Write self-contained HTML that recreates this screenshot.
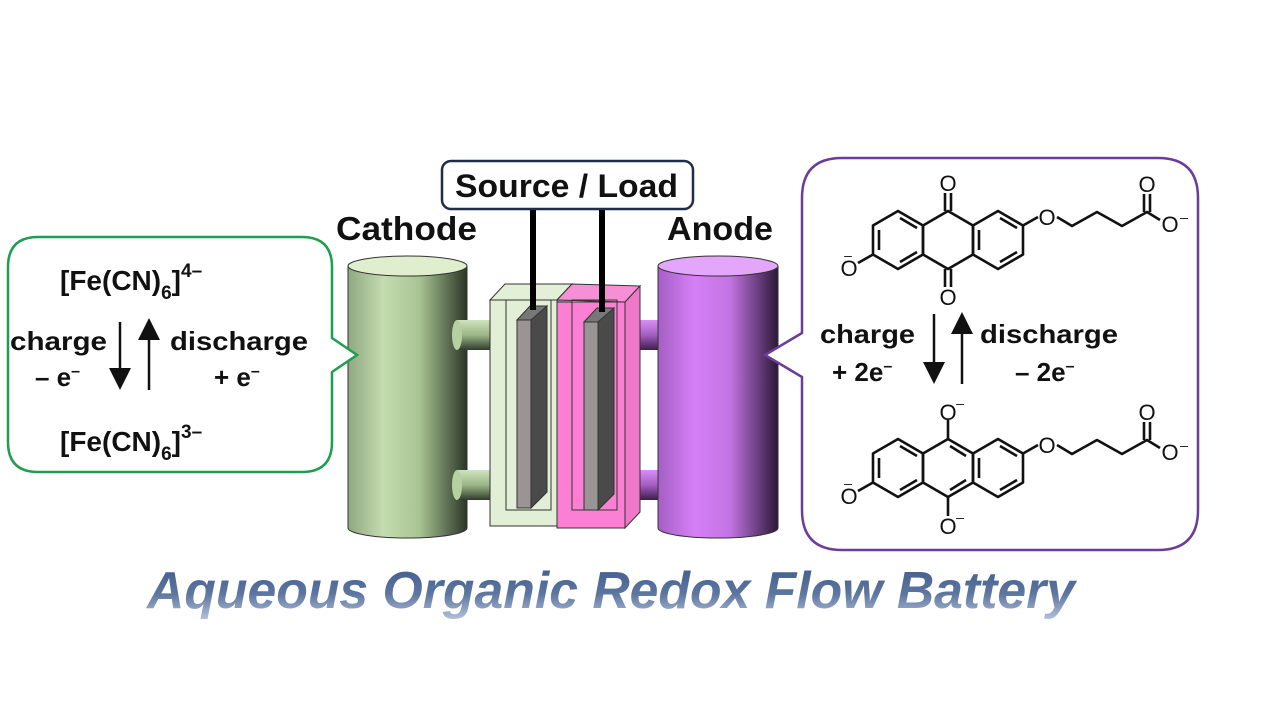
<!DOCTYPE html>
<html><head><meta charset="utf-8"><style>
body{margin:0;background:#fff;}
svg{display:block;font-family:"Liberation Sans",sans-serif;}
</style></head><body>
<svg width="1280" height="720" viewBox="0 0 1280 720" xmlns="http://www.w3.org/2000/svg">
<defs>
<linearGradient id="gc" x1="0" x2="1" y1="0" y2="0"><stop offset="0" stop-color="#8fa880"/><stop offset="0.3" stop-color="#c4dcaf"/><stop offset="0.6" stop-color="#a9c493"/><stop offset="1" stop-color="#2b3626"/></linearGradient>
<linearGradient id="ga" x1="0" x2="1" y1="0" y2="0"><stop offset="0" stop-color="#a45fc4"/><stop offset="0.3" stop-color="#d67ff8"/><stop offset="0.6" stop-color="#c374e3"/><stop offset="1" stop-color="#2c1838"/></linearGradient>
<linearGradient id="pc" x1="0" x2="0" y1="0" y2="1"><stop offset="0" stop-color="#cfe4bd"/><stop offset="0.5" stop-color="#9bb687"/><stop offset="1" stop-color="#2f3b2a"/></linearGradient>
<linearGradient id="pa" x1="0" x2="0" y1="0" y2="1"><stop offset="0" stop-color="#d98ff5"/><stop offset="0.5" stop-color="#a35ec2"/><stop offset="1" stop-color="#3a1f48"/></linearGradient>
<linearGradient id="gt" x1="0" x2="0" y1="0" y2="1"><stop offset="0" stop-color="#3d5a8a"/><stop offset="0.55" stop-color="#5d76a0"/><stop offset="1" stop-color="#b5c3db"/></linearGradient>
</defs>

<!-- Cathode cylinder -->
<rect x="348" y="266" width="119" height="262" fill="url(#gc)"/>
<ellipse cx="407.5" cy="528" rx="59.5" ry="10" fill="url(#gc)"/>
<ellipse cx="407.5" cy="266" rx="59.5" ry="10" fill="#dfeecd" stroke="#333" stroke-width="1"/>
<line x1="348" y1="266" x2="348" y2="528" stroke="#333" stroke-width="1"/>
<line x1="467" y1="266" x2="467" y2="528" stroke="#333" stroke-width="1"/>
<path d="M348,528 A59.5,10 0 0 0 467,528" fill="none" stroke="#333"/>

<!-- Left bubble -->
<path d="M38,237 H302 Q332,237 332,267 V338 L357,355 L332,372 V442 Q332,472 302,472 H38 Q8,472 8,442 V267 Q8,237 38,237 Z" fill="#fff" stroke="#1f9e52" stroke-width="2.5"/>
<g font-weight="bold" fill="#111">
<text x="60" y="290" font-size="28">[Fe(CN)<tspan font-size="19" dy="9">6</tspan><tspan dy="-9">]</tspan><tspan font-size="19" dy="-13">4–</tspan></text>
<text x="60" y="451" font-size="28">[Fe(CN)<tspan font-size="19" dy="9">6</tspan><tspan dy="-9">]</tspan><tspan font-size="19" dy="-13">3–</tspan></text>
<text x="10" y="350" font-size="26" textLength="97" lengthAdjust="spacingAndGlyphs">charge</text>
<text x="35" y="386" font-size="26">– e<tspan font-size="16" dy="-10">–</tspan></text>
<text x="170" y="350" font-size="26" textLength="138" lengthAdjust="spacingAndGlyphs">discharge</text>
<text x="214" y="386" font-size="26">+ e<tspan font-size="16" dy="-10">–</tspan></text>
</g>
<line x1="120" y1="322" x2="120" y2="372" stroke="#111" stroke-width="2.5"/>
<polygon points="109,368 131,368 120,390" fill="#111"/>
<line x1="149" y1="335" x2="149" y2="390" stroke="#111" stroke-width="2.5"/>
<polygon points="138,340 160,340 149,318" fill="#111"/>

<!-- pipes -->
<rect x="457" y="320" width="33" height="30" fill="url(#pc)"/><ellipse cx="457" cy="335" rx="5" ry="15" fill="#b7d0a0"/>
<rect x="457" y="470" width="33" height="30" fill="url(#pc)"/><ellipse cx="457" cy="485" rx="5" ry="15" fill="#b7d0a0"/>
<rect x="632" y="320" width="30" height="30" fill="url(#pa)"/><ellipse cx="632" cy="335" rx="5" ry="15" fill="#c57ae6"/>
<rect x="632" y="470" width="30" height="30" fill="url(#pa)"/><ellipse cx="632" cy="485" rx="5" ry="15" fill="#c57ae6"/>

<!-- Anode cylinder -->
<rect x="658" y="266" width="120" height="262" fill="url(#ga)"/>
<ellipse cx="718" cy="528" rx="60" ry="10" fill="url(#ga)"/>
<ellipse cx="718" cy="266" rx="60" ry="10" fill="#e4a6fb" stroke="#333" stroke-width="1"/>
<line x1="658" y1="266" x2="658" y2="528" stroke="#333"/>
<line x1="778" y1="266" x2="778" y2="528" stroke="#333"/>
<path d="M658,528 A60,10 0 0 0 778,528" fill="none" stroke="#333"/>

<!-- Right bubble -->
<path d="M842,158 H1158 Q1198,158 1198,198 V510 Q1198,550 1158,550 H842 Q802,550 802,510 V377 L765,355 L802,333 V198 Q802,158 842,158 Z" fill="#fff" stroke="#6b3d98" stroke-width="2.5"/>

<!-- Cell -->
<g stroke="#333" stroke-width="1">
<polygon points="490,300 505,284 572,284 557,300" fill="#e4efd7"/>
<rect x="490" y="300" width="67" height="226" fill="#e2eed5"/>
<polygon points="557,300 572,284 572,510 557,526" fill="#a9b7c3"/>
<polygon points="557,300 572,284 640,286 625,302" fill="#f78fd6"/>
<rect x="557" y="302" width="68" height="226" fill="#fb80d3"/>
<polygon points="625,302 640,286 640,512 625,528" fill="#f078c9"/>
<rect x="506" y="300" width="45" height="210" fill="none"/>
<rect x="572" y="300" width="45" height="210" fill="none"/>
<polygon points="517,320 530,306 547,306 534,320" fill="#777"/>
<rect x="517" y="320" width="14" height="188" fill="#9a9494"/>
<polygon points="531,320 547,306 547,492 531,508" fill="#4a4a4a"/>
<polygon points="584,322 597,308 614,308 601,322" fill="#777"/>
<rect x="584" y="322" width="14" height="188" fill="#9a9494"/>
<polygon points="598,322 614,308 614,494 598,510" fill="#4a4a4a"/>
</g>
<line x1="533" y1="208" x2="533" y2="310" stroke="#000" stroke-width="6"/>
<line x1="602" y1="208" x2="602" y2="312" stroke="#000" stroke-width="6"/>

<!-- Source / Load -->
<rect x="442" y="161" width="251" height="48" rx="9" fill="#fff" stroke="#1e2e4a" stroke-width="2.5"/>
<text x="455" y="197" font-size="32" font-weight="bold" fill="#111" textLength="223" lengthAdjust="spacingAndGlyphs">Source / Load</text>
<text x="336" y="240" font-size="33" font-weight="bold" fill="#111" textLength="141" lengthAdjust="spacingAndGlyphs">Cathode</text>
<text x="667" y="240" font-size="33" font-weight="bold" fill="#111" textLength="106" lengthAdjust="spacingAndGlyphs">Anode</text>

<!-- molecules -->
<g stroke="#111" stroke-width="2.6" fill="none" stroke-linejoin="round">
<polygon points="898,211 923,225.5 923,254.5 898,269 873,254.5 873,225.5"/>
<polygon points="948,211 973,225.5 973,254.5 948,269 923,254.5 923,225.5"/>
<polygon points="998,211 1023,225.5 1023,254.5 998,269 973,254.5 973,225.5"/>
<line x1="879" y1="230" x2="879" y2="250"/><line x1="900" y1="218" x2="917" y2="228"/><line x1="900" y1="262" x2="917" y2="252"/>
<line x1="979" y1="230" x2="979" y2="250"/><line x1="1000" y1="218" x2="1017" y2="228"/><line x1="1000" y1="262" x2="1017" y2="252"/>
<line x1="945" y1="211" x2="945" y2="193"/><line x1="951" y1="211" x2="951" y2="193"/>
<line x1="945" y1="269" x2="945" y2="287"/><line x1="951" y1="269" x2="951" y2="287"/>
<line x1="873" y1="254.5" x2="858" y2="263"/>
<polyline points="1023,225.5 1038,217"/>
<polyline points="1057,217 1072,226 1097,212 1122,226 1147,212 1160,220"/>
<line x1="1144" y1="212" x2="1144" y2="194"/><line x1="1150" y1="212" x2="1150" y2="194"/>
<polygon points="898,439 923,453.5 923,482.5 898,497 873,482.5 873,453.5"/>
<polygon points="948,439 973,453.5 973,482.5 948,497 923,482.5 923,453.5"/>
<polygon points="998,439 1023,453.5 1023,482.5 998,497 973,482.5 973,453.5"/>
<line x1="879" y1="458" x2="879" y2="478"/><line x1="900" y1="446" x2="917" y2="456"/><line x1="900" y1="490" x2="917" y2="480"/>
<line x1="979" y1="458" x2="979" y2="478"/><line x1="1000" y1="446" x2="1017" y2="456"/><line x1="1000" y1="490" x2="1017" y2="480"/>
<line x1="950" y1="446" x2="966" y2="456"/><line x1="950" y1="490" x2="966" y2="480"/>
<line x1="948" y1="439" x2="948" y2="420"/>
<line x1="948" y1="497" x2="948" y2="516"/>
<line x1="873" y1="482.5" x2="858" y2="491"/>
<polyline points="1023,453.5 1038,445"/>
<polyline points="1057,445 1072,454 1097,440 1122,454 1147,440 1160,448"/>
<line x1="1144" y1="440" x2="1144" y2="422"/><line x1="1150" y1="440" x2="1150" y2="422"/>
</g>
<g font-size="22" fill="#111" text-anchor="middle">
<text x="948" y="191">O</text><text x="948" y="305">O</text>
<text x="849" y="276">O</text><text x="848" y="260" font-size="14">–</text>
<text x="1047" y="225">O</text>
<text x="1147" y="192">O</text><text x="1170" y="232">O</text><text x="1184" y="222" font-size="14">–</text>
<text x="948" y="420">O</text><text x="960" y="408" font-size="14">–</text>
<text x="948" y="534">O</text><text x="960" y="522" font-size="14">–</text>
<text x="849" y="504">O</text><text x="848" y="488" font-size="14">–</text>
<text x="1047" y="453">O</text>
<text x="1147" y="420">O</text><text x="1170" y="460">O</text><text x="1184" y="450" font-size="14">–</text>
</g>
<g font-weight="bold" fill="#111" font-size="26">
<text x="820" y="343" textLength="95" lengthAdjust="spacingAndGlyphs">charge</text>
<text x="832" y="381">+ 2e<tspan font-size="16" dy="-10">–</tspan></text>
<text x="980" y="343" textLength="138" lengthAdjust="spacingAndGlyphs">discharge</text>
<text x="1015" y="381">– 2e<tspan font-size="16" dy="-10">–</tspan></text>
</g>
<line x1="934" y1="314" x2="934" y2="366" stroke="#111" stroke-width="2.5"/>
<polygon points="923,362 945,362 934,384" fill="#111"/>
<line x1="962" y1="330" x2="962" y2="384" stroke="#111" stroke-width="2.5"/>
<polygon points="951,334 973,334 962,312" fill="#111"/>

<!-- Title -->
<text x="147" y="608" font-size="52" font-weight="bold" font-style="italic" fill="url(#gt)" textLength="928" lengthAdjust="spacingAndGlyphs">Aqueous Organic Redox Flow Battery</text>
</svg>
</body></html>
